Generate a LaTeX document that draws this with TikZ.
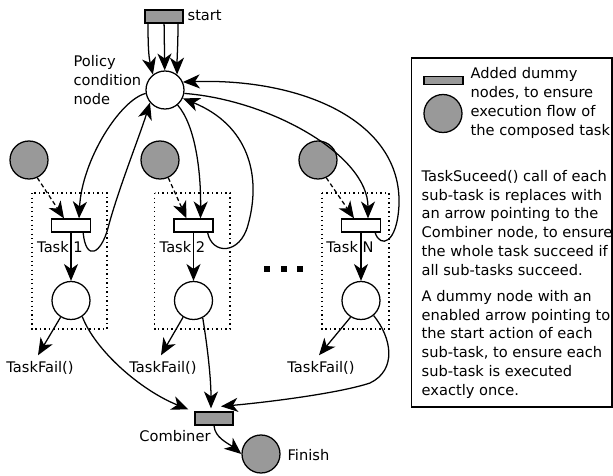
\documentclass[tikz,border=0pt]{standalone}
\usepackage{fontspec}
\setmainfont{DejaVu Sans}
\usetikzlibrary{arrows.meta, calc}

\definecolor{dummygray}{HTML}{999999}

\tikzset{
  statenode/.style = {circle, draw, fill=white, minimum size=0.95cm, inner sep=0pt},
  dummystate/.style = {statenode, fill=dummygray},
  actnode/.style = {rectangle, draw, fill=white, minimum width=0.975cm, minimum height=0.325cm, inner sep=0pt},
  dummyact/.style = {actnode, fill=dummygray},
  lbl/.style = {inner sep=0pt, anchor=base},
  taskbox/.style = {line width=0.8pt, dash pattern=on 0.8pt off 2.4pt},
  enabler/.style = {->, dash pattern=on 3pt off 2pt},
}

\begin{document}
\begin{tikzpicture}[x=0.025cm, y=-0.025cm, line width=0.9pt,
    >={Stealth[length=12pt, width=10pt, inset=3.5pt]},
    font=\fontsize{10.4}{13.3}\selectfont]
  \useasboundingbox (0,0) rectangle (613,475);

  % start and policy condition node
  \node[dummyact, minimum width=0.95cm] (start) at (164,16.5) {};
  \node[lbl, anchor=base west] (startlbl) at (187,20) {start};
  \node[statenode] (pol) at (165,90) {};
  % multi-line labels sit on the baseline of their last line
  \node[lbl, anchor=base west, align=left] (pollbl) at (73,104) {Policy\\condition\\node};
  \draw[->] ($(start.south)+(-16,0)$) .. controls (148,50) and (149,58) .. (pol.128);
  \draw[->] (start) -- (pol);
  \draw[->] ($(start.south)+(14,0)$) .. controls (178,45) and (177,58) .. (pol.52);

  % sub-tasks
  \foreach \n/\x/\dx/\br/\fx in {1/71/29/107/40, 2/193.5/160/230/163, N/361/318/389/321} {
    \draw[taskbox] (\x-39,193) rectangle (\br,329);
    \node[dummystate] (d\n) at (\dx,160) {};
    \node[actnode] (t\n) at (\x,225.5) {};
    \node[lbl] (tl\n) at (\x-11,252) {Task \n};
    \node[statenode] (c\n) at (\x,300.5) {};
    \node[lbl] (f\n) at (\fx,372) {TaskFail()};
    \draw[enabler] (d\n.-65) -- ($(t\n.north)+(-7,0)$);
    \draw[->] (t\n) -- (c\n);
    \draw[->] (c\n.-122) -- ($(f\n.north)+(-2,-5)$);
  }
  \foreach \x in {266.5, 283.5, 299.5}
    \fill (\x-3,266) rectangle +(6,6);

  % policy node to the tasks
  \draw[->] (pol.190) .. controls (120,100) and (82,160) .. ($(t1.north)+(8,0)$);
  \draw[->] (pol.-50) .. controls (195,125) and (201,170) .. ($(t2.north)+(7,0)$);
  \draw[->] (pol.-10) .. controls (270,100) and (368,155) .. ($(tN.north)+(7,0)$);

  % loops back to the policy node
  \draw[->] ($(t1.south east)+(-8,0)$) .. controls (86,262) and (101,254) .. (108,228)
    .. controls (118,190) and (140,135) .. (pol.-140);
  \draw[->] ($(t2.south east)+(-6,0)$) .. controls (212,255) and (240,255) .. (248,225)
    .. controls (262,175) and (248,125) .. (pol.-25);
  \draw[->] ($(tN.south east)+(-6,0)$) .. controls (380,248) and (397,245) .. (399,205)
    .. controls (402,120) and (300,78) .. (pol.24);

  % combiner and finish
  \node[dummyact, minimum width=0.95cm] (comb) at (214,418.5) {};
  \node[lbl] (comblbl) at (175,441) {Combiner};
  \node[dummystate] (fin) at (261,454) {};
  \node[lbl, anchor=base west] (finlbl) at (287,460) {Finish};
  \draw[->] (c1.-55) .. controls (95,350) and (140,390) .. ($(comb.north west)+(-6,-2)$);
  \draw[->] (c2.-62) .. controls (208,350) and (211,380) .. ($(comb.north)+(-3,-3)$);
  \draw[->] (cN.-50) .. controls (392,338) and (397,370) .. (370,383)
    .. controls (340,393) and (270,402) .. ($(comb.north)+(7,-5)$);
  \draw[->] (comb.south) .. controls (215,438) and (228,443) .. (fin.west);

  % legend
  \draw (411.5,58) rectangle (612,407);
  \node[dummyact, minimum height=0.2cm] (lrect) at (443.5,80.5) {};
  \node[dummystate] (lcirc) at (443,113.5) {};
  \node[lbl, anchor=base west, align=left] (ltxt1) at (470,135)
    {Added dummy\\nodes, to ensure\\execution flow of\\the composed task.};
  \node[lbl, anchor=base west, align=left] (ltxt2) at (421,275)
    {TaskSuceed() call of each\\sub-task is replaces with\\an arrow pointing to the\\Combiner node, to ensure\\the whole task succeed if\\all sub-tasks succeed.};
  \node[lbl, anchor=base west, align=left] (ltxt3) at (421,395)
    {A dummy node with an\\enabled arrow pointing to\\the start action of each\\sub-task, to ensure each\\sub-task is executed\\exactly once.};
\end{tikzpicture}
\end{document}
